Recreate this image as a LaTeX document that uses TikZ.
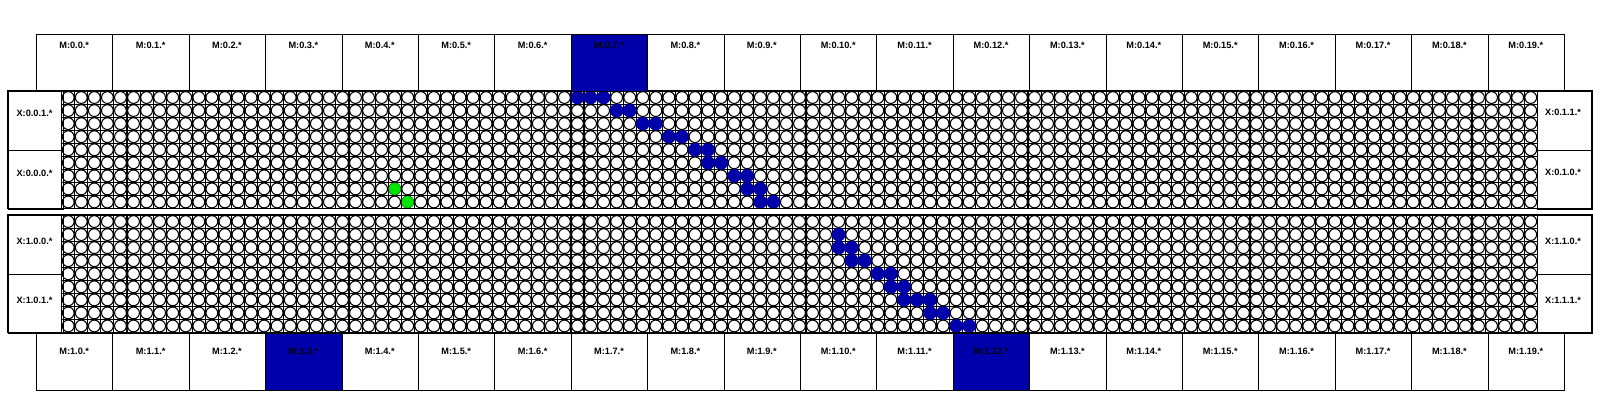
\documentclass[tikz,border=0pt]{standalone}
\usepackage{fontspec}
\setmainfont{Liberation Sans}
\definecolor{hiblue}{RGB}{0,0,170}
\definecolor{higreen}{RGB}{0,230,0}
\begin{document}
\begin{tikzpicture}[x=0.75pt,y=-0.75pt,
  mbox/.style={draw=black,line width=0.8pt,rectangle,inner sep=0pt,minimum width=57.3pt,minimum height=42.75pt,anchor=north west},
  mboxhi/.style={mbox,fill=hiblue},
  xbox/.style={draw=black,line width=0.8pt,rectangle,inner sep=0pt,minimum width=40.95pt,minimum height=44.1pt,anchor=north west},
  lbl/.style={font=\fontsize{6.9}{8}\selectfont\bfseries,inner sep=0pt},
  gridl/.style={draw=black,line width=0.8pt},
  cellc/.style={draw=black,fill=white,line width=0.8pt},
  bluec/.style={fill=hiblue,draw=hiblue,line width=0.3pt},
  greenc/.style={fill=higreen,draw=higreen,line width=0.3pt}]
\useasboundingbox[fill=white] (0,0) rectangle (1600,400);
% grids
\foreach \top/\blk in {91/a,215/b}{
  \draw[gridl] \foreach \c in {0,...,113}{({61.7+13.058*\c},\top) -- ({61.7+13.058*\c},{\top+117.5})}
               \foreach \r in {0,...,9}{(61.7,{\top+13.056*\r}) -- (1537.3,{\top+13.056*\r})};
  \foreach \r in {0,...,8}{
    \path[cellc] \foreach \c in {0,...,112}{({61.7+13.058*(\c+0.5)},{\top+13.056*(\r+0.5)}) circle[radius=5.9]};
  }
}
% highlighted cells top block
\foreach \r/\c in {0/39,0/40,0/41,1/42,1/43,2/44,2/45,3/46,3/47,4/48,4/49,5/49,5/50,6/51,6/52,7/52,7/53,8/53,8/54}{
  \path[bluec] ({61.7+13.058*(\c+0.5)},{91+13.056*(\r+0.5)}) circle[radius=6.6];
}
\foreach \r/\c in {7/25,8/26}{
  \path[greenc] ({61.7+13.058*(\c+0.5)},{91+13.056*(\r+0.5)}) circle[radius=5.8];
}
% highlighted cells bottom block
\foreach \r/\c in {1/59,2/59,2/60,3/60,3/61,4/62,4/63,5/63,5/64,6/64,6/65,6/66,7/66,7/67,8/68,8/69}{
  \path[bluec] ({61.7+13.058*(\c+0.5)},{215+13.056*(\r+0.5)}) circle[radius=6.6];
}
% block outlines
\draw[line width=0.8pt] (8,91) rectangle (1592,208.5);
\draw[line width=0.8pt] (8,215) rectangle (1592,332.5);
% X boxes
\node[xbox] (x001) at (8,91) {};
\node[xbox] (x000) at (8,150) {};
\node[xbox] (x011) at (1537.3,91) {};
\node[xbox] (x010) at (1537.3,150) {};
\node[xbox] (x100) at (8,215) {};
\node[xbox] (x101) at (8,274) {};
\node[xbox] (x110) at (1537.3,215) {};
\node[xbox] (x111) at (1537.3,274) {};
\node[lbl] (lx001) at (34.5,113.3) {X:0.0.1.*};
\node[lbl] (lx000) at (34.5,173.3) {X:0.0.0.*};
\node[lbl] (lx011) at (1563,112) {X:0.1.1.*};
\node[lbl] (lx010) at (1563,172) {X:0.1.0.*};
\node[lbl] (lx100) at (34.5,241.7) {X:1.0.0.*};
\node[lbl] (lx101) at (34.5,300.3) {X:1.0.1.*};
\node[lbl] (lx110) at (1563,241.7) {X:1.1.0.*};
\node[lbl] (lx111) at (1563,300.3) {X:1.1.1.*};
% M boxes
\foreach \i in {0,...,19}{
  \ifnum\i=7 \node[mboxhi] (mt\i) at ({36+76.4*\i},34) {};
  \else \node[mbox] (mt\i) at ({36+76.4*\i},34) {};\fi
  \node[lbl] (lmt\i) at ({36+76.4*\i+38.2},45.7) {M:0.\i.*};
  \ifnum\i=3 \node[mboxhi] (mb\i) at ({36+76.4*\i},332.5) {};
  \else\ifnum\i=12 \node[mboxhi] (mb\i) at ({36+76.4*\i},332.5) {};
  \else \node[mbox] (mb\i) at ({36+76.4*\i},332.5) {};\fi\fi
  \node[lbl] (lmb\i) at ({36+76.4*\i+38.2},351.5) {M:1.\i.*};
}
\end{tikzpicture}
\end{document}
